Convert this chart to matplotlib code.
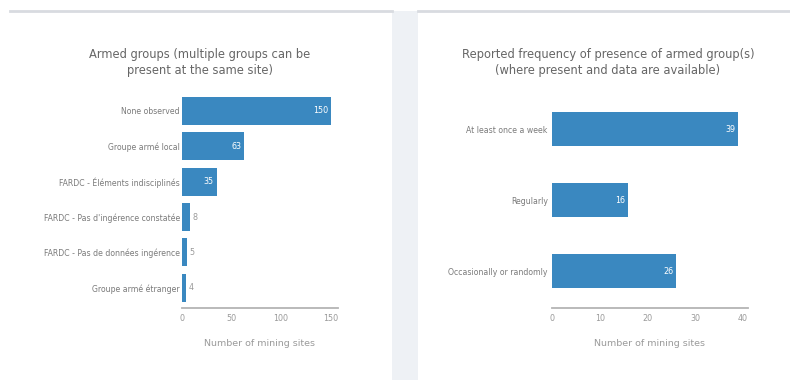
import matplotlib.pyplot as plt
from matplotlib.patches import Rectangle
from matplotlib.lines import Line2D

# Data
armed_cats = ['None observed', 'Groupe armé local', 'FARDC - Éléments indisciplinés',
              "FARDC - Pas d'ingérence constatée", 'FARDC - Pas de données ingérence',
              'Groupe armé étranger']
armed_vals = [150, 63, 35, 8, 5, 4]
armed_ticks = [0, 50, 100, 150]

freq_cats = ['At least once a week', 'Regularly', 'Occasionally or randomly']
freq_vals = [39, 16, 26]
freq_ticks = [0, 10, 20, 30, 40]

# Style
BAR = '#3a88c0'
TITLE_C = '#666666'
LABEL_C = '#7a7a7a'
TICK_C = '#9a9a9a'
AXIS_C = '#b4b4b4'
W, H = 790, 380

fig = plt.figure(figsize=(W / 100, H / 100), dpi=100)
fig.patch.set_facecolor('white')

# background strip between panels and top rules
fig.patches.append(Rectangle((392 / W, 0), 26 / W, 1 - 11 / H, transform=fig.transFigure,
                             facecolor='#eef1f5', edgecolor='none', zorder=0))
for xa, xb in [(10, 392), (418, W)]:
    fig.lines.append(Line2D([xa / W, xb / W], [1 - 11 / H, 1 - 11 / H], transform=fig.transFigure,
                            color='#d8dbe0', linewidth=2))


def px_axes(x0, x1, ytop, ybot):
    return fig.add_axes([x0 / W, 1 - ybot / H, (x1 - x0) / W, (ybot - ytop) / H])


def draw(ax, cats, vals, ticks, xmax, height, ylim, inside_min, label_pad):
    y = list(range(len(cats)))
    ax.barh(y, vals, height=height, color=BAR, zorder=2)
    ax.set_xlim(0, xmax)
    ax.set_ylim(*ylim)
    ax.set_yticks(y)
    ax.set_yticklabels(cats, fontsize=5.6, color=LABEL_C)
    ax.set_xticks(ticks)
    ax.set_xticklabels([str(t) for t in ticks], fontsize=5.8, color=TICK_C)
    ax.tick_params(axis='both', length=0)
    ax.tick_params(axis='y', pad=label_pad)
    ax.tick_params(axis='x', pad=4)
    for s in ['top', 'right', 'left']:
        ax.spines[s].set_visible(False)
    ax.spines['bottom'].set_color(AXIS_C)
    ax.spines['bottom'].set_linewidth(1.3)
    ax.set_xlabel('Number of mining sites', fontsize=6.8, color=TICK_C, labelpad=12)
    for yi, v in zip(y, vals):
        if v >= inside_min:
            ax.annotate(str(v), (v, yi), xytext=(-2, 0), textcoords='offset points',
                        ha='right', va='center', fontsize=5.8, color='white')
        else:
            ax.annotate(str(v), (v, yi), xytext=(2, 0), textcoords='offset points',
                        ha='left', va='center', fontsize=5.8, color=TICK_C)


ax1 = px_axes(182, 337.5, 93.3, 308)
draw(ax1, armed_cats, armed_vals, armed_ticks, 157, 0.79, (5.57, -0.5), 20, 1.5)

ax2 = px_axes(552, 747.8, 93.5, 308)
draw(ax2, freq_cats, freq_vals, freq_ticks, 41, 0.49, (2.52, -0.5), 5, 3)

fig.text(200 / W, 1 - 62.5 / H, 'Armed groups (multiple groups can be\npresent at the same site)',
         ha='center', va='center', multialignment='center', fontsize=8.3, color=TITLE_C,
         linespacing=1.35)
fig.text(608 / W, 1 - 62.5 / H, 'Reported frequency of presence of armed group(s)\n(where present and data are available)',
         ha='center', va='center', multialignment='center', fontsize=8.3, color=TITLE_C,
         linespacing=1.35)

fig.savefig('out.png', dpi=100)
